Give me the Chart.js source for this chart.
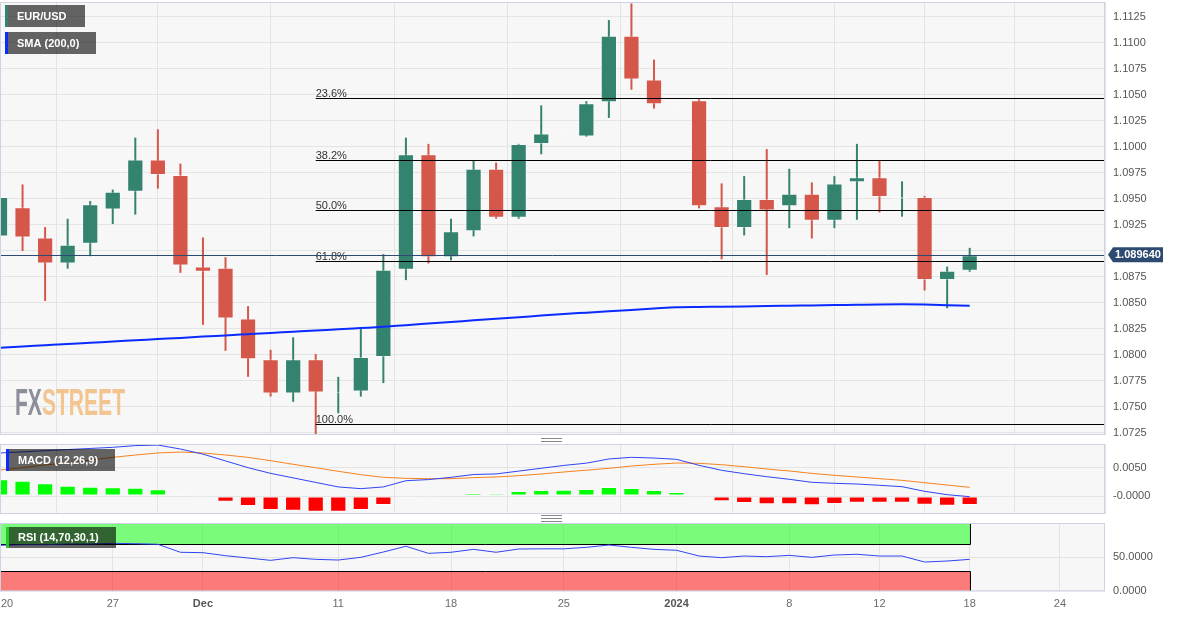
<!DOCTYPE html>
<html><head><meta charset="utf-8">
<script src="https://cdn.jsdelivr.net/npm/chart.js@4.4.0/dist/chart.umd.min.js"></script>
<style>
html,body{margin:0;padding:0;background:#fff;}
body{width:1182px;height:617px;position:relative;overflow:hidden;}
.wrap{position:absolute;left:0;width:1182px;}
.sep{position:absolute;left:541px;width:21px;height:5px;border-top:1px solid #888;border-bottom:1px solid #888;}
.sep:after{content:'';position:absolute;left:0;right:0;top:2px;border-top:1px solid #888;}
</style></head>
<body>
<div class="wrap" style="top:0;height:437px"><canvas id="cMain"></canvas></div>
<div class="sep" style="top:438px"></div>
<div class="wrap" style="top:444px;height:70px"><canvas id="cMacd"></canvas></div>
<div class="sep" style="top:515px"></div>
<div class="wrap" style="top:522px;height:95px"><canvas id="cRsi"></canvas></div>
<script>
// ---------- DATA ----------
const xTickIndex  = [0, 5, 9, 15, 20, 25, 30, 35, 39, 43, 47];
const xTickLabels = ['20','27','Dec','11','18','25','2024','8','12','18','24'];
const xBoldLabels = ['Dec','2024'];

const openP  = [1.0914,1.0942,1.0913,1.0888,1.0907,1.0940,1.0957,1.0988,1.0973,1.0885,
                1.0884,1.0835,1.0796,1.0763,1.0796,1.0763,1.0765,1.0798,1.0882,1.0993,
                1.0894,1.0919,1.0979,1.0932,1.1003,1.1013,1.1010,1.1043,1.1107,1.1065,
                1.1037,1.1045,1.0943,1.0922,1.0950,1.0943,1.0955,1.0929,1.0966,1.0971,
                1.0950,1.0952,1.0872,1.0881];
const highP  = [1.0953,1.0964,1.0923,1.0931,1.0948,1.0959,1.1009,1.1017,1.0984,1.0913,
                1.0894,1.0847,1.0805,1.0817,1.0801,1.0779,1.0827,1.0897,1.1009,1.1003,
                1.0931,1.0987,1.0985,1.1003,1.1040,1.1013,1.1044,1.1122,1.1138,1.1084,
                1.1037,1.1046,1.0965,1.0972,1.0998,1.0979,1.0966,1.0972,1.1003,1.0987,
                1.0967,1.0953,1.0885,1.0903];
const lowP   = [1.0913,1.0900,1.0852,1.0883,1.0895,1.0926,1.0935,1.0960,1.0879,1.0829,
                1.0804,1.0779,1.0760,1.0755,1.0723,1.0744,1.0760,1.0773,1.0872,1.0888,
                1.0891,1.0914,1.0931,1.0931,1.0993,1.1013,1.1010,1.1028,1.1055,1.1037,
                1.1037,1.0941,1.0892,1.0915,1.0877,1.0922,1.0912,1.0922,1.0930,1.0937,
                1.0933,1.0862,1.0845,1.0880];
const closeP = [1.0952,1.0913,1.0888,1.0906,1.0945,1.0957,1.0988,1.0973,1.0886,1.0880,
                1.0835,1.0796,1.0763,1.0796,1.0764,1.0765,1.0798,1.0882,1.0993,1.0894,
                1.0919,1.0979,1.0932,1.1003,1.1013,1.1013,1.1042,1.1107,1.1065,1.1041,
                1.1037,1.0943,1.0922,1.0950,1.0939,1.0955,1.0929,1.0965,1.0971,1.0952,
                1.0952,1.0872,1.0881,1.0896];
const sma200 = [1.08070,1.08082,1.08094,1.08106,1.08117,1.08130,1.08141,1.08153,1.08164,1.08177,
                1.08188,1.08200,1.08212,1.08224,1.08236,1.08247,1.08259,1.08271,1.08287,1.08302,
                1.08317,1.08333,1.08348,1.08363,1.08379,1.08394,1.08407,1.08420,1.08433,1.08446,
                1.08459,1.08462,1.08464,1.08467,1.08471,1.08474,1.08477,1.08480,1.08483,1.08486,
                1.08487,1.08485,1.08479,1.08473];
const currentPrice = 1.089640;
const priceTicks = [1.0725,1.0750,1.0775,1.0800,1.0825,1.0850,1.0875,1.0900,1.0925,1.0950,
                    1.0975,1.1000,1.1025,1.1050,1.1075,1.1100,1.1125];
const fibHigh = 1.1144, fibLow = 1.0734, fibStartIndex = 14;
const fibRatios = [0.236, 0.382, 0.5, 0.618, 1.0];

const macdHist = [0.00295,0.0027,0.00224,0.00182,0.00165,0.00153,0.00147,0.00118,0.00035,-0.0001,
                  -0.0010,-0.00177,-0.00247,-0.0026,-0.00277,-0.00277,-0.00247,-0.00159,-0.00035,-0.0002,
                  0.00005,0.00053,0.00047,0.00088,0.00106,0.00112,0.00124,0.00159,0.00141,0.00106,
                  0.00071,-0.00018,-0.00094,-0.00124,-0.00147,-0.00147,-0.00165,-0.00141,-0.00118,-0.00118,
                  -0.00118,-0.00153,-0.00171,-0.00159];
const macdLine = [0.0076,0.0078,0.0080,0.0082,0.0084,0.0086,0.0089,0.0090,0.0083,0.0074,
                  0.0062,0.0050,0.0040,0.0032,0.0024,0.0016,0.0013,0.0016,0.0027,0.0029,
                  0.0033,0.0038,0.0039,0.0044,0.0049,0.0054,0.0058,0.00654,0.00683,0.00671,
                  0.00648,0.00542,0.00454,0.00394,0.00341,0.00295,0.00242,0.00224,0.00212,0.00189,
                  0.00165,0.00083,0.00023,-0.00012];
const signalLine = [0.00459,0.0050,0.00548,0.00589,0.00636,0.00683,0.00724,0.0076,0.00777,0.0076,
                  0.00724,0.00683,0.00624,0.0056,0.0050,0.00436,0.00377,0.0033,0.00312,0.00306,
                  0.00306,0.00324,0.00336,0.00359,0.00389,0.00424,0.00456,0.00489,0.0053,0.0056,
                  0.00583,0.00577,0.00553,0.00518,0.00477,0.00442,0.004,0.00365,0.00336,0.00306,
                  0.00277,0.00235,0.00194,0.00153];
const macdTicks = [0, 0.005];
const macdTickLabels = ['-0.0000', '0.0050'];

const rsi = [68,69,69,70,70,71,70.5,69.6,57.6,57,
             52.5,49,45.5,49.5,47,46,50,58,66.6,56,
             57.6,62,57.6,62.5,62.8,62.8,65,68.5,65,62,
             60.6,52,49.5,52,51,53,50,53.5,54.6,52,
             52,43,44.5,47];
const rsiTicks = [0, 50];
const rsiTickLabels = ['0.0000', '50.0000'];
const rsiUpper = 70, rsiLower = 30, rsiTop = 100, rsiBottom = 0;

// ---------- STYLE / LAYOUT ----------
const FONT = '"Liberation Sans", Arial, sans-serif';
Chart.defaults.font.family = FONT;
Chart.defaults.animation = false;
Chart.defaults.events = [];
Chart.defaults.plugins.legend.display = false;
Chart.defaults.plugins.tooltip.enabled = false;
const GRID = '#e4e4e4', PANEL_BG = '#f7f7f7', PANEL_BORDER = '#cdd3e4';
const UP = '#33836f', DOWN = '#d4574a', FLAT = '#333333';
const X_MIN = 0, X_MAX = 49, AXIS_W = 77;

const idx = openP.map((_, i) => i);
const lastIndex = idx[idx.length - 1];
const candleColor = i => closeP[i] > openP[i] ? UP : (closeP[i] < openP[i] ? DOWN : FLAT);

function xAxis() {
  return { type: 'linear', min: X_MIN, max: X_MAX, offset: false,
    afterBuildTicks: s => { s.ticks = xTickIndex.map(v => ({ value: v })); },
    afterFit: s => { s.height = 0; s.paddingLeft = 0; s.paddingRight = 0; s.paddingTop = 0; s.paddingBottom = 0; },
    ticks: { display: false }, grid: { color: GRID, drawTicks: false }, border: { display: false } };
}
function yAxis(min, max, values, labels) {
  return { type: 'linear', position: 'right', min, max,
    afterBuildTicks: s => { s.ticks = values.map(v => ({ value: v })); },
    afterFit: s => { s.width = AXIS_W; s.paddingTop = 0; s.paddingBottom = 0; s.paddingLeft = 0; s.paddingRight = 0; },
    ticks: { padding: 8, color: '#555', font: { size: 11 }, autoSkip: false, callback: (v, i) => labels[i] },
    grid: { color: GRID, drawTicks: false }, border: { display: false } };
}
function panelBg(chart) {
  const { ctx, chartArea: a } = chart;
  ctx.save(); ctx.fillStyle = PANEL_BG; ctx.fillRect(a.left, a.top, a.right - a.left, a.bottom - a.top); ctx.restore();
}
function panelBorder(chart) {
  const { ctx, chartArea: a } = chart;
  ctx.save(); ctx.strokeStyle = PANEL_BORDER; ctx.lineWidth = 1;
  ctx.strokeRect(a.left + 0.5, a.top + 0.5, a.right - a.left - 1, a.bottom - a.top - 1); ctx.restore();
}
function legendBox(ctx, x, y, w, h, accent, text) {
  ctx.save();
  ctx.fillStyle = 'rgba(0,0,0,0.6)'; ctx.fillRect(x, y, w, h);
  ctx.fillStyle = accent; ctx.fillRect(x, y, 3, h);
  ctx.fillStyle = '#ffffff'; ctx.font = 'bold 11px ' + FONT; ctx.textBaseline = 'middle'; ctx.textAlign = 'left';
  ctx.fillText(text, x + 12, y + h / 2 + 0.5);
  ctx.restore();
}

// ---------- MAIN PRICE CHART ----------
const mainPlugin = {
  id: 'mainDecor',
  beforeDraw: panelBg,
  beforeDatasetsDraw(chart) {
    const { ctx } = chart;
    ctx.save();
    ctx.font = 'bold 36px ' + FONT; ctx.textBaseline = 'alphabetic';
    const wFX = ctx.measureText('FX').width, wAll = ctx.measureText('FXSTREET').width;
    ctx.translate(15, 415); ctx.scale(110 / wAll, 1);
    ctx.fillStyle = '#8c8e99'; ctx.fillText('FX', 0, 0);
    ctx.fillStyle = '#f2c490'; ctx.fillText('STREET', wFX, 0);
    ctx.restore();
  },
  afterDatasetsDraw(chart) {
    const { ctx, chartArea: a, scales: { x, y } } = chart;
    ctx.save();
    ctx.beginPath(); ctx.rect(a.left, a.top, a.right - a.left, a.bottom - a.top); ctx.clip();
    const x0 = x.getPixelForValue(fibStartIndex);
    ctx.font = '11px ' + FONT; ctx.textBaseline = 'alphabetic'; ctx.textAlign = 'left';
    fibRatios.forEach(r => {
      const lvl = fibHigh - (fibHigh - fibLow) * r;
      const py = Math.round(y.getPixelForValue(lvl)) + 0.5;
      ctx.strokeStyle = '#000'; ctx.lineWidth = 1;
      ctx.beginPath(); ctx.moveTo(x0, py); ctx.lineTo(a.right, py); ctx.stroke();
      ctx.fillStyle = '#333'; ctx.fillText((r * 100).toFixed(1) + '%', x0, py - 1.5);
    });
    const cy = Math.round(y.getPixelForValue(currentPrice)) + 0.5;
    ctx.strokeStyle = '#2d4a70'; ctx.lineWidth = 1;
    ctx.beginPath(); ctx.moveTo(a.left, cy); ctx.lineTo(a.right, cy); ctx.stroke();
    ctx.restore();
  },
  afterDraw(chart) {
    const { ctx, chartArea: a, scales: { y } } = chart;
    panelBorder(chart);
    legendBox(ctx, 5, 5, 80, 22, UP, 'EUR/USD');
    legendBox(ctx, 5, 32, 91, 22, '#0a2bff', 'SMA (200,0)');
    const cy = y.getPixelForValue(currentPrice);
    ctx.save();
    ctx.fillStyle = '#ffffff'; ctx.fillRect(a.right + 2, cy - 11, 62, 19);
    ctx.fillStyle = '#2d4a70';
    ctx.beginPath(); ctx.moveTo(a.right + 3, cy); ctx.lineTo(a.right + 8, cy - 7.5); ctx.lineTo(a.right + 58, cy - 7.5);
    ctx.lineTo(a.right + 58, cy + 7.5); ctx.lineTo(a.right + 8, cy + 7.5); ctx.closePath(); ctx.fill();
    ctx.fillStyle = '#fff'; ctx.font = 'bold 11px ' + FONT; ctx.textBaseline = 'middle'; ctx.textAlign = 'left';
    ctx.fillText(currentPrice.toFixed(6), a.right + 10, cy + 0.5);
    ctx.restore();
  }
};

new Chart(document.getElementById('cMain'), {
  type: 'bar',
  data: { datasets: [
    { type: 'line', label: 'SMA', data: idx.map(i => ({ x: i, y: sma200[i] })), borderColor: '#0a2bff',
      borderWidth: 2, pointRadius: 0, cubicInterpolationMode: 'monotone', order: 0 },
    { label: 'body', data: idx.map(i => ({ x: i, y: [openP[i], closeP[i]] })),
      backgroundColor: idx.map(candleColor), borderColor: 'rgba(255,255,255,0.35)', borderWidth: 1,
      borderSkipped: false, grouped: false, maxBarThickness: 17, minBarLength: 2, order: 1 },
    { label: 'wick', data: idx.map(i => ({ x: i, y: [lowP[i], highP[i]] })),
      backgroundColor: idx.map(candleColor), borderWidth: 0, grouped: false, maxBarThickness: 2, order: 2 }
  ]},
  options: {
    responsive: true, maintainAspectRatio: false,
    layout: { autoPadding: false, padding: { top: 2, bottom: 2, left: 0, right: 0 } },
    scales: { x: xAxis(), y: yAxis(1.072307, 1.113942, priceTicks, priceTicks.map(v => v.toFixed(4))) }
  },
  plugins: [mainPlugin]
});

// ---------- MACD ----------
const macdPlugin = {
  id: 'macdDecor',
  beforeDraw: panelBg,
  afterDraw(chart) { panelBorder(chart); legendBox(chart.ctx, 6, 5, 109, 22, '#0a2bff', 'MACD (12,26,9)'); }
};
new Chart(document.getElementById('cMacd'), {
  type: 'bar',
  data: { datasets: [
    { type: 'line', data: idx.map(i => ({ x: i, y: macdLine[i] })), borderColor: '#2f45f5', borderWidth: 1,
      pointRadius: 0, tension: 0, order: 0 },
    { type: 'line', data: idx.map(i => ({ x: i, y: signalLine[i] })), borderColor: '#f7831f', borderWidth: 1,
      pointRadius: 0, tension: 0, order: 1 },
    { data: idx.map(i => ({ x: i, y: macdHist[i] })),
      backgroundColor: idx.map(i => macdHist[i] >= 0 ? '#00ff00' : '#ff0000'),
      borderColor: 'rgba(255,255,255,0.45)', borderWidth: 1, borderSkipped: false,
      grouped: false, maxBarThickness: 17, minBarLength: 1, order: 2 }
  ]},
  options: {
    responsive: true, maintainAspectRatio: false,
    layout: { autoPadding: false, padding: 0 },
    scales: { x: xAxis(), y: yAxis(-0.00318, 0.009187, macdTicks, macdTickLabels) }
  },
  plugins: [macdPlugin]
});

// ---------- RSI ----------
const rsiPlugin = {
  id: 'rsiDecor',
  beforeDraw: panelBg,
  beforeDatasetsDraw(chart) {
    const { ctx, chartArea: a, scales: { x, y } } = chart;
    const xr = Math.round(x.getPixelForValue(lastIndex)) + 0.5;
    const yTop = y.getPixelForValue(rsiTop), yUp = Math.round(y.getPixelForValue(rsiUpper)) + 0.5;
    const yLo = Math.round(y.getPixelForValue(rsiLower)) + 0.5, yBot = y.getPixelForValue(rsiBottom);
    ctx.save();
    ctx.beginPath(); ctx.rect(a.left, a.top, a.right - a.left, a.bottom - a.top); ctx.clip();
    ctx.fillStyle = 'rgba(0,255,0,0.5)'; ctx.fillRect(a.left, yTop, xr - a.left, yUp - yTop);
    ctx.fillStyle = 'rgba(255,0,0,0.5)'; ctx.fillRect(a.left, yLo, xr - a.left, yBot - yLo);
    ctx.strokeStyle = '#000'; ctx.lineWidth = 1;
    ctx.beginPath();
    ctx.moveTo(a.left, yUp); ctx.lineTo(xr, yUp); ctx.lineTo(xr, yTop);
    ctx.moveTo(a.left, yLo); ctx.lineTo(xr, yLo); ctx.lineTo(xr, yBot);
    ctx.stroke();
    ctx.restore();
  },
  afterDraw(chart) {
    const { ctx, scales: { x } } = chart;
    panelBorder(chart);
    legendBox(ctx, 6, 5, 110, 21, '#22cc22', 'RSI (14,70,30,1)');
    ctx.save(); ctx.textBaseline = 'middle'; ctx.textAlign = 'left';
    xTickIndex.forEach((v, i) => {
      const lab = xTickLabels[i], bold = xBoldLabels.includes(lab);
      ctx.font = (bold ? 'bold ' : '') + '11px ' + FONT;
      ctx.fillStyle = bold ? '#555' : '#6a6a6a';
      const w = ctx.measureText(lab).width;
      let px = x.getPixelForValue(v) - w / 2;
      if (px < 1) px = 1;
      ctx.fillText(lab, px, 82);
    });
    ctx.restore();
  }
};
new Chart(document.getElementById('cRsi'), {
  type: 'line',
  data: { datasets: [
    { data: idx.map(i => ({ x: i, y: rsi[i] })), borderColor: '#2f45f5', borderWidth: 1, pointRadius: 0, tension: 0 }
  ]},
  options: {
    responsive: true, maintainAspectRatio: false,
    layout: { autoPadding: false, padding: { top: 1, bottom: 25.5, left: 0, right: 0 } },
    scales: { x: xAxis(), y: yAxis(-1.2, 101.5, rsiTicks, rsiTickLabels) }
  },
  plugins: [rsiPlugin]
});
</script>
</body></html>
